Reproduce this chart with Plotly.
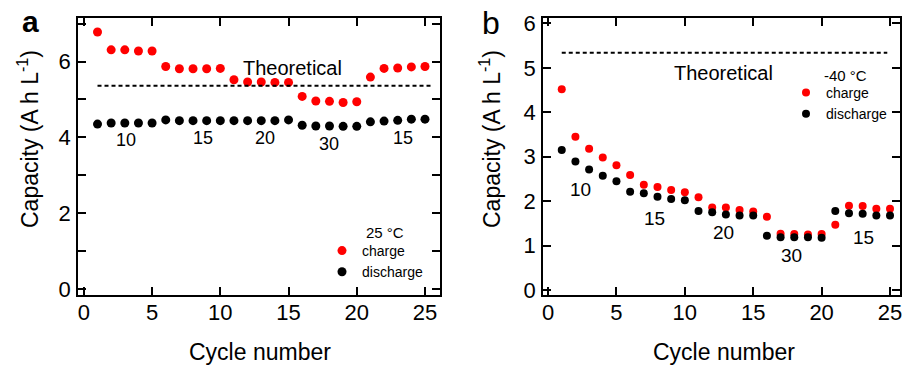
import plotly.graph_objects as go

cycles = list(range(1, 26))

# Panel a: 25 °C
charge_25 = [6.78, 6.31, 6.31, 6.28, 6.28, 5.87, 5.81, 5.81, 5.81, 5.82,
             5.52, 5.46, 5.46, 5.45, 5.45, 5.08, 4.96, 4.95, 4.92, 4.94,
             5.59, 5.82, 5.83, 5.86, 5.87]
discharge_25 = [4.35, 4.38, 4.38, 4.38, 4.38, 4.46, 4.44, 4.44, 4.44, 4.44,
                4.44, 4.44, 4.44, 4.44, 4.46, 4.32, 4.30, 4.30, 4.29, 4.29,
                4.41, 4.43, 4.45, 4.48, 4.48]
theoretical_a = 5.36

# Panel b: -40 °C
charge_m40 = [4.52, 3.45, 3.18, 2.98, 2.81, 2.59, 2.37, 2.32, 2.25, 2.20,
              2.09, 1.86, 1.86, 1.80, 1.77, 1.65, 1.27, 1.26, 1.25, 1.26,
              1.47, 1.90, 1.89, 1.83, 1.83]
discharge_m40 = [3.15, 2.89, 2.71, 2.57, 2.45, 2.21, 2.18, 2.10, 2.05, 2.02,
                 1.78, 1.75, 1.70, 1.68, 1.68, 1.22, 1.19, 1.19, 1.19, 1.18,
                 1.78, 1.73, 1.72, 1.68, 1.68]
theoretical_b = 5.34

# rate labels (text, x, y) for each panel
rate_labels_a = [("10", 3.1, 3.93), ("15", 8.75, 3.98), ("20", 13.3, 3.98),
                 ("30", 18.0, 3.82), ("15", 23.4, 3.98)]
rate_labels_b = [("10", 2.4, 2.27), ("15", 7.8, 1.61), ("20", 12.85, 1.29),
                 ("30", 17.8, 0.77), ("15", 23.05, 1.18)]

FONT = "Arial, Liberation Sans, sans-serif"
RED = "#FF0000"
BLACK = "#000000"

fig = go.Figure()

# Panel a traces
fig.add_trace(go.Scatter(x=cycles, y=charge_25, mode="markers", name="charge",
                         marker=dict(color=RED, size=9), xaxis="x", yaxis="y",
                         legend="legend"))
fig.add_trace(go.Scatter(x=cycles, y=discharge_25, mode="markers", name="discharge",
                         marker=dict(color=BLACK, size=9), xaxis="x", yaxis="y",
                         legend="legend"))
fig.add_trace(go.Scatter(x=[1, 25.5], y=[theoretical_a, theoretical_a], mode="lines",
                         line=dict(color=BLACK, width=2, dash="4px,3px"),
                         showlegend=False, xaxis="x", yaxis="y"))

# Panel b traces
fig.add_trace(go.Scatter(x=cycles, y=charge_m40, mode="markers", name="charge",
                         marker=dict(color=RED, size=8), xaxis="x2", yaxis="y2",
                         legend="legend2"))
fig.add_trace(go.Scatter(x=cycles, y=discharge_m40, mode="markers", name="discharge",
                         marker=dict(color=BLACK, size=8), xaxis="x2", yaxis="y2",
                         legend="legend2"))
fig.add_trace(go.Scatter(x=[1, 24.8], y=[theoretical_b, theoretical_b], mode="lines",
                         line=dict(color=BLACK, width=2, dash="4px,3px"),
                         showlegend=False, xaxis="x2", yaxis="y2"))

W, H = 908, 366
ydom = [1 - 295 / H, 1 - 18 / H]

axis_common = dict(showline=True, linecolor=BLACK, linewidth=1.5, mirror="ticks",
                   ticks="inside", ticklen=8, tickwidth=1.5, tickcolor=BLACK,
                   showgrid=False, zeroline=False, automargin=False,
                   tickfont=dict(family=FONT, size=22, color=BLACK))

fig.update_layout(
    width=W, height=H,
    margin=dict(l=0, r=0, t=0, b=0, pad=0, autoexpand=False),
    paper_bgcolor="white", plot_bgcolor="white",
    font=dict(family=FONT, color=BLACK),
    xaxis=dict(domain=[78 / W, 440 / W], range=[-0.43, 26.1], anchor="y",
               tickvals=[0, 5, 10, 15, 20, 25], ticklabelstandoff=-3, **axis_common),
    yaxis=dict(domain=ydom, range=[-0.16, 7.15], anchor="x",
               tickvals=[0, 1, 2, 3, 4, 5, 6, 7],
               ticktext=["0", "", "2", "", "4", "", "6", ""],
               ticklabelstandoff=1, **axis_common),
    xaxis2=dict(domain=[543 / W, 900 / W], range=[-0.37, 25.73], anchor="y2",
                tickvals=[0, 5, 10, 15, 20, 25], ticklabelstandoff=-3, **axis_common),
    yaxis2=dict(domain=ydom, range=[-0.11, 6.12], anchor="x2",
                tickvals=[0, 1, 2, 3, 4, 5, 6], ticklabelstandoff=1, **axis_common),
    legend=dict(x=322 / W, y=1 - 235 / H, xanchor="left", yanchor="top",
                bgcolor="rgba(0,0,0,0)", font=dict(family=FONT, size=14, color=BLACK),
                tracegroupgap=0, itemsizing="trace"),
    legend2=dict(x=786 / W, y=1 - 77 / H, xanchor="left", yanchor="top",
                 bgcolor="rgba(0,0,0,0)", font=dict(family=FONT, size=14, color=BLACK),
                 tracegroupgap=0, itemsizing="trace"),
    showlegend=True,
)

def paper_text(text, px, py, size, **kw):
    d = dict(text=text, x=px / W, y=1 - py / H, xref="paper", yref="paper",
             xanchor="center", yanchor="middle", showarrow=False,
             font=dict(family=FONT, size=size, color=BLACK))
    d.update(kw)
    return d

ann = []
# panel labels
ann.append(paper_text("<b>a</b>", 30, 22, 30))
ann.append(paper_text("b", 491, 23, 32))
# axis titles
for xc in (28, 490):
    ann.append(paper_text("Capacity (A h L<sup>-1</sup>)", xc, 139, 23, textangle=-90))
for xc in (260, 724):
    ann.append(paper_text("Cycle number", xc, 352, 23))
# theoretical labels
ann.append(dict(text="Theoretical", x=15.3, y=5.83, xref="x", yref="y", showarrow=False,
                font=dict(family=FONT, size=20, color=BLACK)))
ann.append(dict(text="Theoretical", x=12.8, y=4.89, xref="x2", yref="y2", showarrow=False,
                font=dict(family=FONT, size=20, color=BLACK)))
# rate labels
for t, xv, yv in rate_labels_a:
    ann.append(dict(text=t, x=xv, y=yv, xref="x", yref="y", showarrow=False,
                    font=dict(family=FONT, size=18, color=BLACK)))
for t, xv, yv in rate_labels_b:
    ann.append(dict(text=t, x=xv, y=yv, xref="x2", yref="y2", showarrow=False,
                    font=dict(family=FONT, size=19, color=BLACK)))
# temperature legend headers
ann.append(paper_text("25 °C", 364, 232, 15, xanchor="left"))
ann.append(paper_text("-40 °C", 822, 75, 15, xanchor="left"))

fig.update_layout(annotations=ann)
fig.write_html("out.html", config={"displayModeBar": False},
               post_script="document.body.style.margin='0';document.body.style.padding='0';")
